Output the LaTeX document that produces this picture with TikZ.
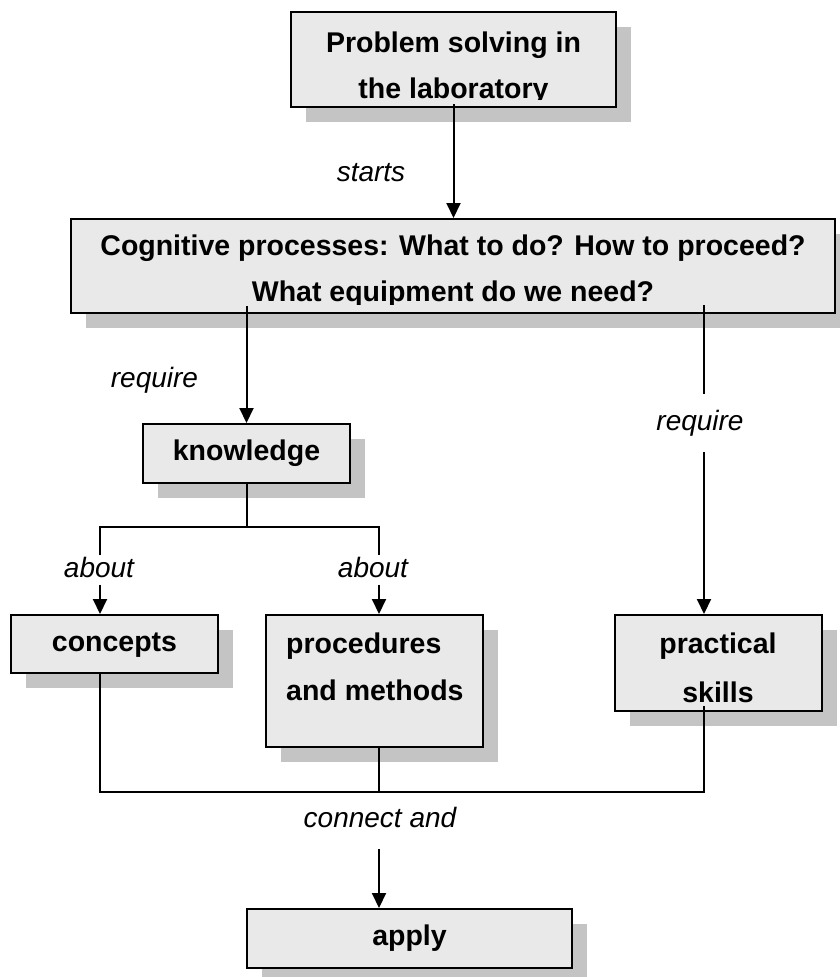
\documentclass[tikz,border=0pt]{standalone}
\usepackage{fontspec}
\setmainfont{Liberation Sans}
\usetikzlibrary{arrows.meta,shadows,calc}
\definecolor{boxfill}{RGB}{233,233,233}
\definecolor{shadowgray}{RGB}{196,196,196}
\begin{document}
\begin{tikzpicture}[x=1pt,y=-1pt,
  cbox/.style={draw, line width=2pt, fill=boxfill, rectangle, inner sep=0pt,
    general shadow={fill=shadowgray, shadow xshift=15pt, shadow yshift=-15pt}},
  btext/.style={font=\bfseries\fontsize{28.5}{46}\selectfont, inner sep=0pt},
  onetext/.style={text height=20.5pt, text depth=6pt},
  ltext/.style={font=\itshape\fontsize{28}{34}\selectfont, inner sep=0pt, text height=20pt, text depth=6pt},
  conn/.style={line width=2pt},
  arr/.style={conn, -{Triangle[length=15pt,width=14pt]}}]
\useasboundingbox (0,0) rectangle (840,977);

% boxes
\node[cbox, minimum width=325pt, minimum height=95pt] (top) at (453.5,59.5) {};
\node[cbox, minimum width=764pt, minimum height=94pt] (big) at (453,266) {};
\node[cbox, btext, onetext, minimum width=207pt, minimum height=59pt] (know) at (246.5,453.5) {knowledge};
\node[cbox, btext, onetext, minimum width=207pt, minimum height=58pt] (conc) at (114.5,644) {concepts};
\node[cbox, minimum width=217pt, minimum height=132pt] (proc) at (374.5,681) {};
\node[cbox, minimum width=207pt, minimum height=96pt] (prac) at (718.5,663) {};
\node[cbox, btext, onetext, minimum width=325pt, minimum height=59pt] (apply) at (409.5,938.5) {apply};

% box texts
\begin{scope}
  \clip (top.north west) rectangle ($(top.south east)+(0,-8.5)$);
  \node[btext, anchor=base] (t1a) at (453.5,52) {Problem solving in};
  \node[btext, anchor=base] (t1b) at (453.5,98) {the laboratory};
\end{scope}
\begin{scope}
  \clip (big.north west) rectangle ($(big.south east)+(0,-10)$);
  \node[btext, anchor=base] (t2a) at (453,255) {Cognitive processes: What to do? How to proceed?};
  \node[btext, anchor=base] (t2b) at (453,301) {What equipment do we need?};
\end{scope}
\node[btext, anchor=base west] (t3a) at (286,653) {procedures};
\node[btext, anchor=base west] (t3b) at (286,700) {and methods};
\node[btext, anchor=base] (t4a) at (718,653) {practical};
\node[btext, anchor=base] (t4b) at (718,702) {skills};

% labels
\node[ltext, anchor=base] (lstarts) at (371,181) {starts};
\node[ltext, anchor=base] (lreqL) at (154.5,387) {require};
\node[ltext, anchor=base, minimum height=58pt] (lreqR) at (700,430) {require};
\node[ltext, anchor=base, minimum height=29pt] (labL) at (99,577) {about};
\node[ltext, anchor=base, minimum height=29pt] (labR) at (373,577) {about};
\node[ltext, anchor=base, minimum height=58pt] (lconn) at (380,827) {connect and};

% helper coordinates
\coordinate (r0) at (704,305);
\coordinate (bl) at (100,527);
\coordinate (brr) at (379,527);
\coordinate (bus) at (379,792);

% connectors
\draw[arr] ($(top.south)+(0,-4)$) -- (top.south |- big.north);
\draw[arr] ($(big.south -| know.north)+(0,-8)$) -- (know.north);
\draw[conn] (r0) -- (r0 |- lreqR.north);
\draw[arr] (r0 |- lreqR.south) -- (r0 |- prac.north);
\draw[conn] (know.south) -- (know.south |- bl);
\draw[conn] (bl |- labL.north) -- (bl) -- (brr) -- (brr |- labR.north);
\draw[arr] (bl |- labL.south) -- (bl |- conc.north);
\draw[arr] (brr |- labR.south) -- (brr |- proc.north);
\draw[conn] (bl |- conc.south) -- (bl |- bus) -- (r0 |- bus) -- ($(r0 |- prac.south)+(0,-6)$);
\draw[conn] (brr |- proc.south) -- (brr |- bus);
\draw[arr] (lconn.south -| bus) -- (bus |- apply.north);
\end{tikzpicture}
\end{document}
